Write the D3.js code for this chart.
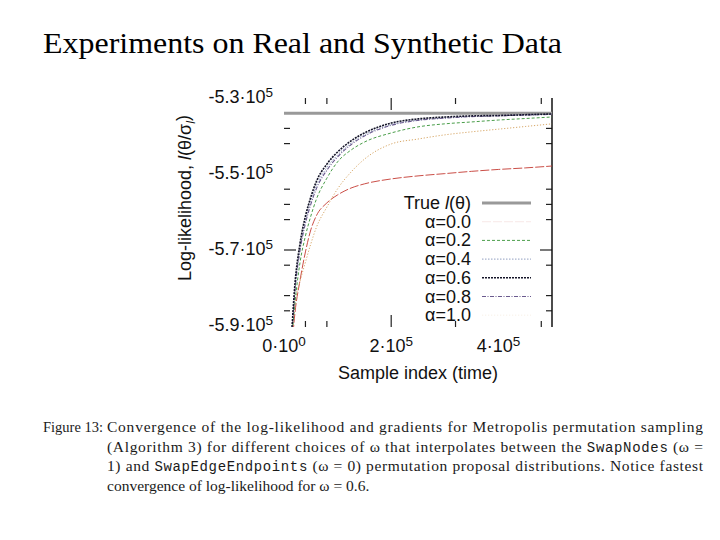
<!DOCTYPE html>
<html>
<head>
<meta charset="utf-8">
<script src="https://cdn.jsdelivr.net/npm/d3@7"></script>
<style>
  body { margin: 0; background: #fff; }
  svg { display: block; }
</style>
</head>
<body>
<div id="chart"></div>
<script>
// sample index (x) shared by all runs
var samples = [15000, 20000, 30000, 40000, 50000, 60000, 80000, 100000, 125000,
               150000, 200000, 250000, 300000, 350000, 400000, 450000, 500000];

// log-likelihood per alpha
var alpha00 = [-595000, -587100, -577900, -570500, -564700, -561100, -557600, -555500, -553700,
               -552600, -551300, -550500, -549900, -549300, -548800, -548400, -547900];
var alpha02 = [-592400, -584500, -573200, -566300, -561100, -556800, -551100, -546800, -543700,
               -541600, -539200, -537600, -536800, -536300, -535800, -535400, -535000];
var alpha04 = [-591000, -580800, -569500, -562300, -557200, -553200, -548300, -545000, -541900,
               -539700, -537000, -535800, -535200, -534850, -534650, -534450, -534300];
var alpha06 = [-590300, -579700, -568200, -561100, -556100, -552100, -547400, -544200, -541300,
               -539200, -536600, -535500, -535000, -534700, -534600, -534400, -534200];
var alpha08 = [-591500, -581500, -570000, -563000, -558000, -554000, -549000, -545500, -542300,
               -540000, -537200, -535900, -535300, -534900, -534700, -534500, -534300];
var alpha10 = [-593700, -584500, -578200, -573200, -568400, -564200, -558700, -553900, -549500,
               -546100, -542100, -540800, -539700, -538900, -538200, -537500, -536800];
var trueLL = -534000;

var seriesNames = ["\u03b1=0.0", "\u03b1=0.2", "\u03b1=0.4", "\u03b1=0.6", "\u03b1=0.8", "\u03b1=1.0"];
var seriesValues = [alpha00, alpha02, alpha04, alpha06, alpha08, alpha10];

// axis ticks
var yLabelValues = [-530000, -550000, -570000, -590000];
var yLabelMantissa = ["-5.3", "-5.5", "-5.7", "-5.9"];
var yLabelExp = ["5", "5", "5", "5"];
var yTickMarks = [-538000, -542000, -554000, -558000, -562000, -570000, -574000, -582000, -586000];
var yMajorMarks = [-570000];
var xLabelValues = [0, 200000, 400000];
var xLabelMantissa = ["0", "2", "4"];
var xLabelExp = ["0", "5", "5"];
var xTickMarks = [40000, 80000, 200000, 320000, 480000];
var xMajorMarks = [200000];

// styles per series
var colors = ["#c43a32", "#4a9e4a", "#909ec0", "#141428", "#6a5a8e", "#d8a868"];
var dashes = ["9,2", "3,2", "1.5,1.5", "2,1", "4,1.5,1,1.5", "1.2,1.8"];
var widths = [0.9, 1, 1, 1.6, 1.1, 1];
var legendOpacity = [0.12, 1, 1, 1, 1, 0.15];

var W = 720, H = 540;
var pL = 284, pR = 552, pT = 98, pB = 326;
var sans = "'Liberation Sans', Arial, Helvetica, sans-serif";
var serif = "'Liberation Serif', 'Times New Roman', serif";
var mono = "'Liberation Mono', 'Courier New', monospace";

var svg = d3.select("#chart").append("svg")
  .attr("width", W).attr("height", H);

// slide title
svg.append("text")
  .attr("x", 43).attr("y", 53)
  .attr("font-family", serif).attr("font-size", 30)
  .attr("textLength", 519).attr("lengthAdjust", "spacingAndGlyphs")
  .attr("fill", "#000")
  .text("Experiments on Real and Synthetic Data");

var x = d3.scaleLinear().domain([0, 500000]).range([pL, pR]);
var y = d3.scaleLinear().domain([-590000, -530000]).range([pB, pT]);

svg.append("clipPath").attr("id", "plotclip")
  .append("rect").attr("x", pL).attr("y", pT)
  .attr("width", pR - pL).attr("height", pB - pT + 1);

// ticks on all four sides (inward)
var tk = svg.append("g").attr("stroke", "#222").attr("stroke-width", 1.2);
yTickMarks.forEach(function(v) {
  var len = yMajorMarks.indexOf(v) >= 0 ? 12 : 6;
  tk.append("line").attr("x1", pL).attr("x2", pL + len).attr("y1", y(v)).attr("y2", y(v));
  tk.append("line").attr("x1", pR).attr("x2", pR - len).attr("y1", y(v)).attr("y2", y(v));
});
xTickMarks.forEach(function(v) {
  var len = xMajorMarks.indexOf(v) >= 0 ? 12 : 6;
  tk.append("line").attr("x1", x(v)).attr("x2", x(v)).attr("y1", pT).attr("y2", pT + len);
  tk.append("line").attr("x1", x(v)).attr("x2", x(v)).attr("y1", pB + 1).attr("y2", pB + 1 - len);
});
// right frame edge
svg.append("line")
  .attr("x1", pR).attr("x2", pR).attr("y1", pT).attr("y2", pB + 1)
  .attr("stroke", "#111").attr("stroke-width", 1.5);

// tick labels
function sciLabel(g, m, e) {
  g.append("tspan").text(m + "\u00b710");
  g.append("tspan").attr("dy", "-0.45em").attr("font-size", "0.75em").text(e);
}
yLabelValues.forEach(function(v, i) {
  var t = svg.append("text")
    .attr("x", 273).attr("y", y(v) + 5)
    .attr("text-anchor", "end")
    .attr("font-family", sans).attr("font-size", 18).attr("fill", "#111");
  sciLabel(t, yLabelMantissa[i], yLabelExp[i]);
});
xLabelValues.forEach(function(v, i) {
  var t = svg.append("text")
    .attr("x", x(v)).attr("y", 352)
    .attr("text-anchor", "middle")
    .attr("font-family", sans).attr("font-size", 18).attr("fill", "#111");
  sciLabel(t, xLabelMantissa[i], xLabelExp[i]);
});

// axis titles
svg.append("text")
  .attr("x", (pL + pR) / 2).attr("y", 379)
  .attr("text-anchor", "middle")
  .attr("font-family", sans).attr("font-size", 18).attr("fill", "#111")
  .text("Sample index (time)");

var yt = svg.append("text")
  .attr("transform", "translate(191,198) rotate(-90)")
  .attr("text-anchor", "middle")
  .attr("font-family", sans).attr("font-size", 18).attr("fill", "#111");
yt.append("tspan").text("Log-likelihood, ");
yt.append("tspan").attr("font-style", "italic").text("l");
yt.append("tspan").text("(\u03b8/\u03c3");
yt.append("tspan").attr("font-style", "italic").attr("font-size", "0.7em").attr("dy", "0.3em").text("l");
yt.append("tspan").attr("dy", "-0.3em").text(")");

// data
var plot = svg.append("g").attr("clip-path", "url(#plotclip)");

plot.append("line")
  .attr("x1", pL).attr("x2", pR)
  .attr("y1", y(trueLL)).attr("y2", y(trueLL))
  .attr("stroke", "#999").attr("stroke-width", 3);

var line = d3.line()
  .x(function(d, i) { return x(samples[i]); })
  .y(function(d) { return y(d); })
  .curve(d3.curveMonotoneX);

// draw slower ones first so the fast cluster sits on top
var order = [0, 5, 1, 2, 4, 3];
order.forEach(function(k) {
  plot.append("path")
    .datum(seriesValues[k])
    .attr("d", line)
    .attr("fill", "none")
    .attr("stroke", colors[k])
    .attr("stroke-width", widths[k])
    .attr("stroke-dasharray", dashes[k]);
});

// legend
var lx = 471, ly0 = 203, step = 18.7;
var lg = svg.append("g").attr("font-family", sans).attr("font-size", 18).attr("fill", "#111");
var tt = lg.append("text").attr("x", lx).attr("y", ly0 + 6).attr("text-anchor", "end");
tt.append("tspan").text("True ");
tt.append("tspan").attr("font-style", "italic").text("l");
tt.append("tspan").text("(\u03b8)");
lg.append("line")
  .attr("x1", 482).attr("x2", 531).attr("y1", ly0).attr("y2", ly0)
  .attr("stroke", "#999").attr("stroke-width", 3);

seriesNames.forEach(function(name, i) {
  var yy = ly0 + step * (i + 1);
  lg.append("text").attr("x", lx).attr("y", yy + 6).attr("text-anchor", "end").text(name);
  lg.append("line")
    .attr("x1", 482).attr("x2", 531).attr("y1", yy).attr("y2", yy)
    .attr("stroke", colors[i]).attr("stroke-width", widths[i])
    .attr("stroke-dasharray", dashes[i])
    .attr("opacity", legendOpacity[i]);
});

// figure caption
var cap = svg.append("g").attr("font-family", serif).attr("font-size", 15.5).attr("fill", "#1a1a1a");
cap.append("text").attr("x", 43).attr("y", 432)
  .attr("textLength", 60).attr("lengthAdjust", "spacingAndGlyphs")
  .text("Figure 13:");
cap.append("text").attr("x", 107).attr("y", 432)
  .attr("textLength", 596).attr("lengthAdjust", "spacing")
  .text("Convergence of the log-likelihood and gradients for Metropolis permutation sampling");
var l2 = cap.append("text").attr("x", 107).attr("y", 452)
  .attr("textLength", 596).attr("lengthAdjust", "spacing");
l2.append("tspan").text("(Algorithm 3) for different choices of \u03c9 that interpolates between the ");
l2.append("tspan").attr("font-family", mono).attr("font-size", 14).text("SwapNodes");
l2.append("tspan").text(" (\u03c9 =");
var l3 = cap.append("text").attr("x", 107).attr("y", 471)
  .attr("textLength", 596).attr("lengthAdjust", "spacing");
l3.append("tspan").text("1) and ");
l3.append("tspan").attr("font-family", mono).attr("font-size", 14).text("SwapEdgeEndpoints");
l3.append("tspan").text(" (\u03c9 = 0) permutation proposal distributions. Notice fastest");
cap.append("text").attr("x", 107).attr("y", 491)
  .text("convergence of log-likelihood for \u03c9 = 0.6.");
</script>
</body>
</html>
